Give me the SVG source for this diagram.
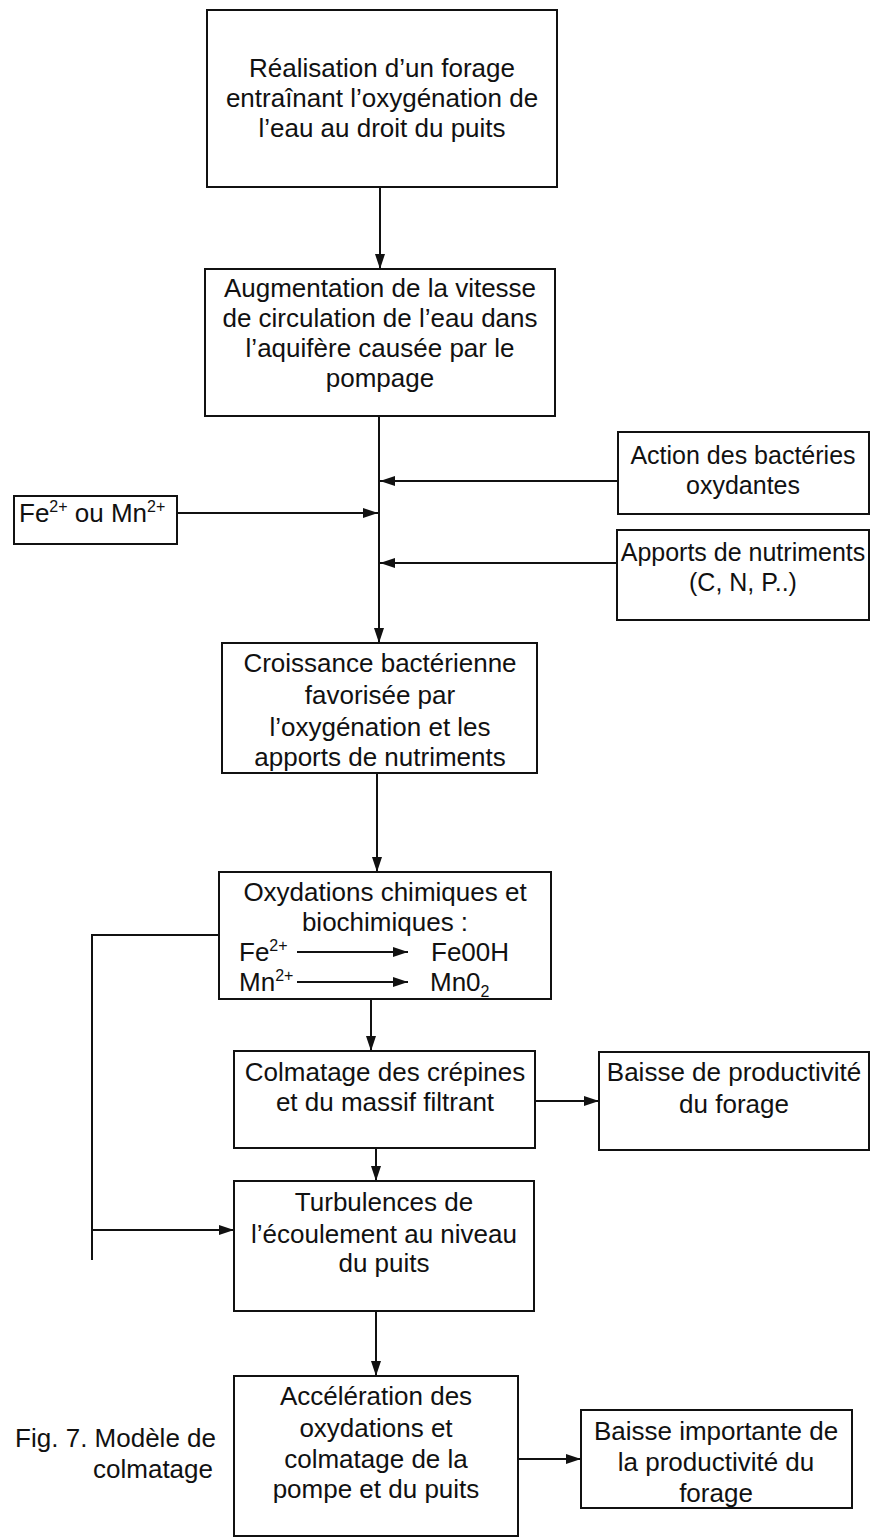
<svg xmlns="http://www.w3.org/2000/svg" width="871" height="1537" viewBox="0 0 871 1537">
<defs>
<marker id="ah" markerUnits="userSpaceOnUse" markerWidth="15" markerHeight="10" refX="15" refY="5" orient="auto">
<path d="M0,0 L15,5 L0,10 z" fill="#111"/>
</marker>
<style>
rect{fill:#fff;stroke:#111;stroke-width:2}
text{font-family:"Liberation Sans",Arial,sans-serif;font-size:26px;fill:#111}
.c{text-anchor:middle}
.con line,.con path{stroke:#111;stroke-width:2;fill:none}
.sup{font-size:16px}
</style>
</defs>
<rect x="0" y="0" width="871" height="1537" style="fill:#fff;stroke:none"/>
<g class="con">
<line x1="380" y1="187" x2="380" y2="269" marker-end="url(#ah)"/>
<line x1="379" y1="416" x2="379" y2="643" marker-end="url(#ah)"/>
<line x1="618" y1="481" x2="380" y2="481" marker-end="url(#ah)"/>
<line x1="177" y1="513" x2="378" y2="513" marker-end="url(#ah)"/>
<line x1="617" y1="563" x2="380" y2="563" marker-end="url(#ah)"/>
<line x1="377" y1="773" x2="377" y2="872" marker-end="url(#ah)"/>
<line x1="371" y1="999" x2="371" y2="1051" marker-end="url(#ah)"/>
<line x1="535" y1="1101" x2="599" y2="1101" marker-end="url(#ah)"/>
<line x1="376" y1="1148" x2="376" y2="1181" marker-end="url(#ah)"/>
<path d="M219,935 H92 V1260"/>
<line x1="92" y1="1230" x2="234" y2="1230" marker-end="url(#ah)"/>
<line x1="376" y1="1311" x2="376" y2="1376" marker-end="url(#ah)"/>
<line x1="518" y1="1459" x2="581" y2="1459" marker-end="url(#ah)"/>
</g>
<g id="n1">
<rect x="207" y="10" width="350" height="177"/>
<text class="c" x="382" y="77">Réalisation d’un forage</text>
<text class="c" x="382" y="107">entraînant l’oxygénation de</text>
<text class="c" x="382" y="137">l’eau au droit du puits</text>
</g>
<g id="n2">
<rect x="205" y="269" width="350" height="147"/>
<text class="c" x="380" y="297">Augmentation de la vitesse</text>
<text class="c" x="380" y="327">de circulation de l’eau dans</text>
<text class="c" x="380" y="357">l’aquifère causée par le</text>
<text class="c" x="380" y="387">pompage</text>
</g>
<g id="n3">
<rect x="618" y="432" width="251" height="82"/>
<text class="c" x="743" y="464" style="font-size:25px">Action des bactéries</text>
<text class="c" x="743" y="494" style="font-size:25px">oxydantes</text>
</g>
<g id="n4">
<rect x="14" y="496" width="163" height="48"/>
<text x="19" y="522">Fe<tspan class="sup" dy="-10">2+</tspan><tspan dy="10"> ou Mn</tspan><tspan class="sup" dy="-10">2+</tspan></text>
</g>
<g id="n5">
<rect x="617" y="530" width="252" height="90"/>
<text class="c" x="743" y="561" style="font-size:25px">Apports de nutriments</text>
<text class="c" x="743" y="591" style="font-size:25px">(C, N, P..)</text>
</g>
<g id="n6">
<rect x="222" y="643" width="315" height="130"/>
<text class="c" x="380" y="672">Croissance bactérienne</text>
<text class="c" x="380" y="704">favorisée par</text>
<text class="c" x="380" y="736">l’oxygénation et les</text>
<text class="c" x="380" y="766">apports de nutriments</text>
</g>
<g id="n7">
<rect x="219" y="872" width="332" height="127"/>
<text class="c" x="385" y="901">Oxydations chimiques et</text>
<text class="c" x="385" y="931">biochimiques :</text>
<text x="239" y="961">Fe<tspan class="sup" dy="-10">2+</tspan></text>
<text x="431" y="961">Fe00H</text>
<text x="239" y="991">Mn<tspan class="sup" dy="-10">2+</tspan></text>
<text x="430" y="991">Mn0<tspan class="sup" dy="6">2</tspan></text>
<g class="con">
<line x1="297" y1="952" x2="408" y2="952" marker-end="url(#ah)"/>
<line x1="297" y1="982" x2="408" y2="982" marker-end="url(#ah)"/>
</g>
</g>
<g id="n8">
<rect x="234" y="1051" width="301" height="97"/>
<text class="c" x="385" y="1081">Colmatage des crépines</text>
<text class="c" x="385" y="1111">et du massif filtrant</text>
</g>
<g id="n9">
<rect x="599" y="1052" width="270" height="98"/>
<text class="c" x="734" y="1081">Baisse de productivité</text>
<text class="c" x="734" y="1113">du forage</text>
</g>
<g id="n10">
<rect x="234" y="1181" width="300" height="130"/>
<text class="c" x="384" y="1211">Turbulences de</text>
<text class="c" x="384" y="1243">l’écoulement au niveau</text>
<text class="c" x="384" y="1272">du puits</text>
</g>
<g id="n11">
<rect x="234" y="1376" width="284" height="160"/>
<text class="c" x="376" y="1405">Accélération des</text>
<text class="c" x="376" y="1437">oxydations et</text>
<text class="c" x="376" y="1468">colmatage de la</text>
<text class="c" x="376" y="1498">pompe et du puits</text>
</g>
<g id="n12">
<rect x="581" y="1410" width="271" height="98"/>
<text class="c" x="716" y="1440">Baisse importante de</text>
<text class="c" x="716" y="1471">la productivité du</text>
<text class="c" x="716" y="1502">forage</text>
</g>
<g id="caption">
<text x="216" y="1447" style="text-anchor:end">Fig. 7. Modèle de</text>
<text x="213" y="1478" style="text-anchor:end">colmatage</text>
</g>
</svg>
